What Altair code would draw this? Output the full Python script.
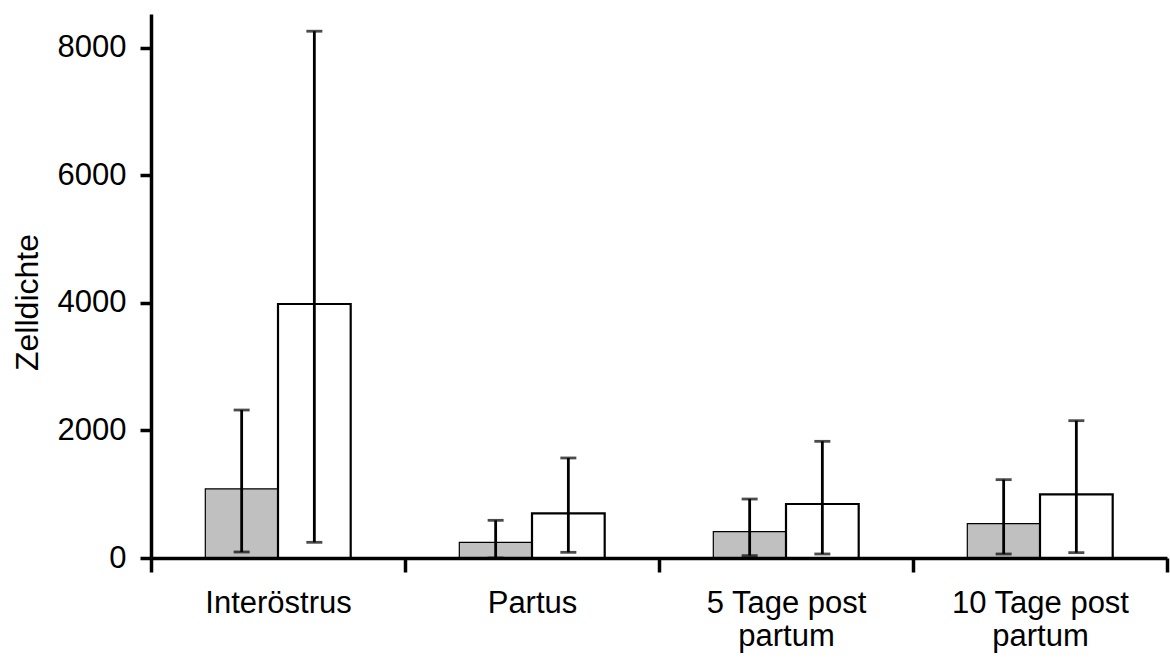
import altair as alt
import pandas as pd

# Phasen und Gruppen
categories = ["Interöstrus", "Partus", "5 Tage post partum", "10 Tage post partum"]
groups = ["grau", "weiß"]

# Mittelwerte und Fehlerbalken (untere / obere Grenze) je Gruppe
gray_mean = [1085, 246, 413, 538]
gray_low = [94, 0, 37, 63]
gray_high = [2321, 591, 925, 1229]

white_mean = [3984, 701, 847, 999]
white_low = [246, 89, 63, 84]
white_high = [8263, 1569, 1830, 2154]

rows = []
for i, c in enumerate(categories):
    rows.append({"Phase": c, "Gruppe": groups[0], "Mittel": gray_mean[i],
                 "Unten": gray_low[i], "Oben": gray_high[i]})
    rows.append({"Phase": c, "Gruppe": groups[1], "Mittel": white_mean[i],
                 "Unten": white_low[i], "Oben": white_high[i]})
df = pd.DataFrame(rows)

FONT = "Liberation Sans"
W, H = 1016, 544
YMAX = 8533

x_enc = alt.X(
    "Phase:N",
    sort=categories,
    scale=alt.Scale(paddingInner=0, paddingOuter=0),
    axis=alt.Axis(
        title=None,
        labelAngle=0,
        labelFont=FONT,
        labelFontSize=31,
        labelColor="black",
        labelPadding=16,
        labelLineHeight=33,
        labelExpr="indexof(datum.label, ' partum') > 0 ? [replace(datum.label, ' partum', ''), 'partum'] : datum.label",
        tickBand="extent",
        tickSize=14,
        tickWidth=3.5,
        tickColor="black",
        domainWidth=3.5,
        domainColor="black",
        zindex=1,
    ),
)
xo_enc = alt.XOffset(
    "Gruppe:N",
    sort=groups,
    scale=alt.Scale(paddingInner=0, paddingOuter=0.747),
)
y_scale = alt.Scale(domain=[0, YMAX], nice=False, zero=True)

base = alt.Chart(df).encode(x=x_enc, xOffset=xo_enc)

bars = base.mark_bar(stroke="black").encode(
    y=alt.Y(
        "Mittel:Q",
        scale=y_scale,
        axis=alt.Axis(
            title="Zelldichte",
            values=[0, 2000, 4000, 6000, 8000],
            format="d",
            grid=False,
            labelFont=FONT,
            labelFontSize=31,
            labelColor="black",
            labelPadding=14,
            titleFont=FONT,
            titleFontSize=32,
            titleFontWeight="normal",
            titleColor="black",
            titleBaseline="alphabetic",
            titleX=-114,
            titleY=288,
            tickSize=11,
            tickWidth=3.5,
            tickColor="black",
            domainWidth=3.5,
            domainColor="black",
            zindex=1,
        ),
    ),
    fill=alt.Fill("Gruppe:N", scale=alt.Scale(domain=groups, range=["#c0c0c0", "#ffffff"]), legend=None),
    strokeWidth=alt.StrokeWidth("Gruppe:N", scale=alt.Scale(domain=groups, range=[1.2, 2.2]), legend=None),
)

err = base.mark_rule(color="black", strokeWidth=2.8).encode(
    y=alt.Y("Unten:Q", scale=y_scale),
    y2="Oben:Q",
)
cap_top = base.mark_tick(color="black", size=16, thickness=2.8).encode(
    y=alt.Y("Oben:Q", scale=y_scale)
)
cap_bottom = base.mark_tick(color="black", size=16, thickness=2.8).encode(
    y=alt.Y("Unten:Q", scale=y_scale)
)

chart = (
    alt.layer(bars, err, cap_top, cap_bottom)
    .properties(
        width=W,
        height=H,
        autosize=alt.AutoSizeParams(type="none"),
        padding={"left": 151, "top": 14, "right": 3, "bottom": 101},
        background="white",
    )
    .configure_view(stroke=None)
)

chart.save("out.html", embed_options={"renderer": "svg", "actions": False})
